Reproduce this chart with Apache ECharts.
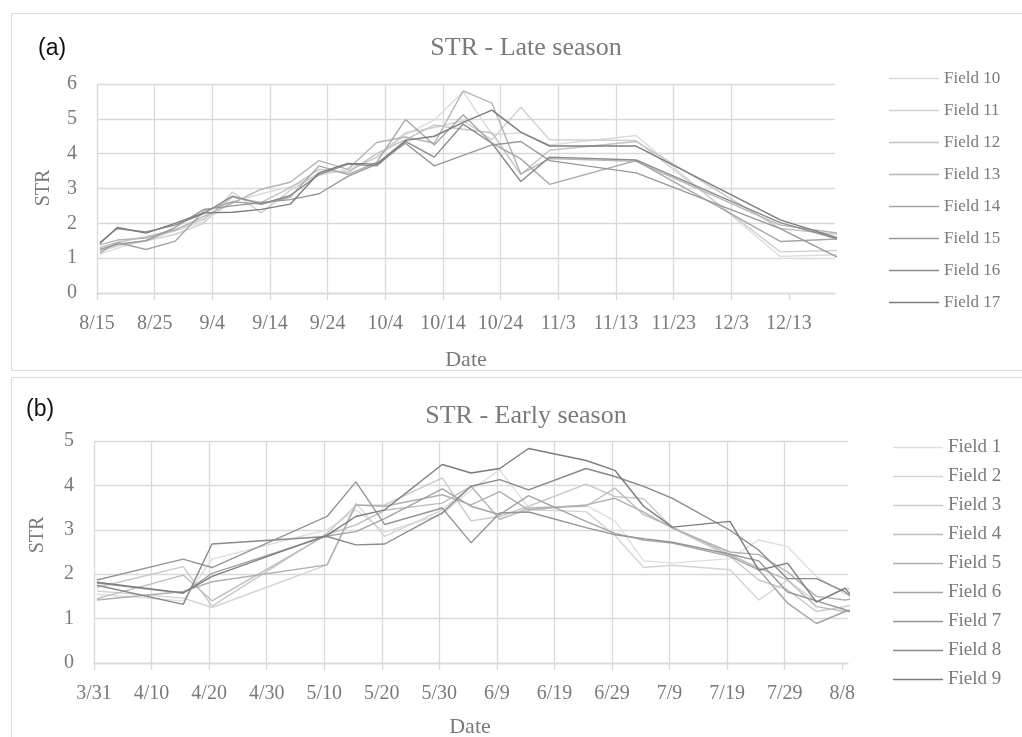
<!DOCTYPE html>
<html>
<head>
<meta charset="utf-8">
<title>STR</title>
<script src="https://cdn.jsdelivr.net/npm/echarts@6/dist/echarts.min.js"></script>
<style>
  html, body { margin: 0; padding: 0; background: #ffffff; }
  #chart { width: 1022px; height: 737px; }
</style>
</head>
<body>
<div id="chart"></div>
<script>
// ---------- (a) Late season ----------
const lateDates = ['8/15', '8/18', '8/23', '8/28', '9/2', '9/7', '9/12', '9/17', '9/22', '9/27',
                   '10/2', '10/7', '10/12', '10/17', '10/22', '10/27', '11/1', '11/16', '12/11', '12/21'];
const lateTicks = ['8/15', '8/25', '9/4', '9/14', '9/24', '10/4', '10/14', '10/24', '11/3', '11/13', '11/23', '12/3', '12/13'];
const lateAxisEnd = '12/21';
const lateNames = ['Field 10', 'Field 11', 'Field 12', 'Field 13', 'Field 14', 'Field 15', 'Field 16', 'Field 17'];
const field10 = [1.12, 1.28, 1.52, 1.78, 2.05, 2.62, 2.85, 3.05, 3.38, 3.55, 3.88, 4.55, 4.97, 5.78, 4.55, 4.60, 4.25, 4.52, 1.05, 1.10];
const field11 = [1.20, 1.35, 1.50, 1.68, 2.00, 2.90, 2.30, 2.95, 3.45, 3.50, 3.90, 4.60, 4.75, 4.95, 4.40, 5.33, 4.40, 4.38, 1.18, 1.22];
const field12 = [1.30, 1.45, 1.62, 1.82, 2.12, 2.75, 2.60, 3.02, 3.55, 3.45, 4.00, 4.40, 4.82, 4.70, 4.60, 3.40, 4.10, 4.35, 1.85, 1.68];
const field13 = [1.38, 1.52, 1.58, 1.80, 2.20, 2.58, 2.98, 3.18, 3.80, 3.55, 4.32, 4.48, 4.30, 5.80, 5.45, 3.42, 3.86, 3.78, 1.95, 1.72];
const field14 = [1.15, 1.45, 1.25, 1.48, 2.35, 2.62, 2.55, 2.75, 3.65, 3.40, 3.75, 4.98, 4.25, 5.12, 4.30, 3.85, 3.12, 3.80, 1.48, 1.55];
const field15 = [1.25, 1.40, 1.50, 1.88, 2.40, 2.50, 2.60, 2.68, 2.85, 3.35, 3.70, 4.30, 3.65, 3.95, 4.25, 4.35, 3.80, 3.45, 1.85, 1.02];
const field16 = [1.45, 1.85, 1.75, 1.95, 2.28, 2.78, 2.55, 2.80, 3.40, 3.70, 3.65, 4.35, 3.90, 4.85, 4.30, 3.20, 3.90, 3.82, 2.02, 1.55];
const field17 = [1.42, 1.88, 1.72, 2.00, 2.30, 2.32, 2.40, 2.55, 3.45, 3.72, 3.70, 4.38, 4.50, 4.90, 5.25, 4.62, 4.22, 4.22, 2.10, 1.58];
const lateValues = [field10, field11, field12, field13, field14, field15, field16, field17];
const lateColors = ['#dcdcdc', '#d0d0d0', '#c3c3c3', '#b5b5b5', '#a7a7a7', '#999999', '#8b8b8b', '#7d7d7d'];

// ---------- (b) Early season ----------
const earlyDates = ['3/31', '4/15', '4/20', '5/10', '5/15', '5/20', '5/30', '6/4', '6/9', '6/14',
                    '6/24', '6/29', '7/4', '7/9', '7/19', '7/24', '7/29', '8/3', '8/8', '8/9'];
const earlyTicks = ['3/31', '4/10', '4/20', '4/30', '5/10', '5/20', '5/30', '6/9', '6/19', '6/29', '7/9', '7/19', '7/29', '8/8'];
const earlyAxisEnd = '8/9';
const earlyNames = ['Field 1', 'Field 2', 'Field 3', 'Field 4', 'Field 5', 'Field 6', 'Field 7', 'Field 8', 'Field 9'];
const field1 = [1.55, 1.40, 2.34, 3.00, 3.45, 2.95, 3.35, 3.90, 4.35, 3.50, 3.55, 3.20, 2.30, 2.25, 2.35, 2.77, 2.62, 1.95, 1.55, 1.52];
const field2 = [1.62, 1.46, 1.25, 2.21, 3.60, 2.85, 3.45, 3.98, 3.25, 3.45, 3.41, 2.87, 2.15, 2.20, 2.10, 1.42, 1.87, 1.38, 1.70, 1.65];
const field3 = [1.70, 2.17, 1.28, 2.92, 3.55, 3.56, 4.17, 3.20, 3.30, 3.53, 4.03, 3.75, 3.70, 3.04, 2.40, 1.87, 1.65, 1.16, 1.27, 1.30];
const field4 = [1.45, 1.98, 1.40, 2.89, 3.11, 3.44, 3.60, 3.98, 3.23, 3.49, 3.53, 3.94, 3.34, 3.06, 2.44, 2.14, 1.87, 1.27, 1.16, 1.20];
const field5 = [1.42, 1.61, 1.83, 2.21, 3.56, 3.53, 3.79, 3.56, 3.86, 3.45, 3.56, 3.71, 3.40, 3.04, 2.50, 2.44, 2.05, 1.50, 1.42, 1.44];
const field6 = [1.80, 1.57, 2.02, 2.86, 2.96, 3.25, 3.92, 3.53, 3.34, 3.77, 3.19, 2.92, 2.77, 2.70, 2.40, 2.10, 1.35, 0.89, 1.16, 1.18];
const field7 = [1.87, 2.34, 2.15, 3.30, 4.08, 3.12, 3.49, 2.71, 3.38, 3.40, 3.05, 2.89, 2.80, 2.72, 2.45, 2.30, 1.60, 1.40, 1.20, 1.15];
const field8 = [1.75, 1.32, 2.68, 2.85, 2.66, 2.68, 3.38, 3.98, 4.13, 3.90, 4.38, 4.20, 3.98, 3.71, 2.99, 2.54, 1.90, 1.90, 1.60, 1.50];
const field9 = [1.82, 1.58, 1.95, 2.88, 3.30, 3.45, 4.47, 4.28, 4.38, 4.83, 4.56, 4.34, 3.53, 3.06, 3.19, 2.09, 2.25, 1.37, 1.68, 1.53];
const earlyValues = [field1, field2, field3, field4, field5, field6, field7, field8, field9];
const earlyColors = ['#dedede', '#d4d4d4', '#c9c9c9', '#bdbdbd', '#b0b0b0', '#a3a3a3', '#969696', '#898989', '#7c7c7c'];

// ---------- helpers ----------
const YEAR = 2019;
function toDay(md, startMd) {
  const [m, d] = md.split('/').map(Number);
  const [sm, sd] = startMd.split('/').map(Number);
  return Math.round((Date.UTC(YEAR, m - 1, d) - Date.UTC(YEAR, sm - 1, sd)) / 86400000);
}
function dayLabel(day, startMd) {
  const [sm, sd] = startMd.split('/').map(Number);
  const t = new Date(Date.UTC(YEAR, sm - 1, sd) + Math.round(day) * 86400000);
  return (t.getUTCMonth() + 1) + '/' + t.getUTCDate();
}

const FONT = '"Liberation Serif", "DejaVu Serif", serif';
const GRID_COLOR = '#d9d9d9';
const TEXT_COLOR = '#7a7a7a';

function xAxisFor(gridIndex, ticks, endMd) {
  const start = ticks[0];
  const tickDays = ticks.map(t => toDay(t, start));
  return {
    type: 'value', gridIndex: gridIndex,
    min: 0, max: toDay(endMd, start), interval: 10,
    axisLine: { show: true, lineStyle: { color: GRID_COLOR, width: 1.3 } },
    axisTick: { show: true, length: 7, customValues: tickDays, lineStyle: { color: GRID_COLOR, width: 1.3 } },
    axisLabel: {
      customValues: tickDays, margin: 21,
      color: TEXT_COLOR, fontFamily: FONT, fontSize: 20,
      formatter: v => dayLabel(v, start)
    },
    splitLine: { show: true, showMaxLine: false, lineStyle: { color: GRID_COLOR, width: 1.3 } }
  };
}
function yAxisFor(gridIndex, max) {
  return {
    type: 'value', gridIndex: gridIndex, min: 0, max: max, interval: 1,
    axisLine: { show: false }, axisTick: { show: false },
    axisLabel: { color: TEXT_COLOR, fontFamily: FONT, fontSize: 20, margin: 20 },
    splitLine: { show: true, lineStyle: { color: GRID_COLOR, width: 1.3 } }
  };
}
// each acquisition date sits in the middle of its day
function seriesFor(names, values, colors, dates, gridIndex) {
  const start = dates[0];
  return names.map((name, i) => ({
    name: name, type: 'line',
    xAxisIndex: gridIndex, yAxisIndex: gridIndex,
    symbol: 'none', clip: false, connectNulls: true,
    lineStyle: { color: colors[i], width: 1.4 },
    itemStyle: { color: colors[i] },
    data: dates.map((d, k) => [toDay(d, start) + 0.5, values[i][k]])
  }));
}
// legend keys are plain strokes, drawn as thin bars in each series colour
function legendFor(names, left, top, gap, fontSize) {
  return {
    data: names, orient: 'vertical', left: left, top: top, padding: 0,
    icon: 'rect', itemWidth: 50, itemHeight: 1.6, itemGap: gap,
    textStyle: { fontFamily: FONT, fontSize: fontSize, color: TEXT_COLOR }
  };
}

const chart = echarts.init(document.getElementById('chart'), null, { renderer: 'canvas' });
chart.setOption({
  animation: false,
  backgroundColor: '#ffffff',
  title: [
    { text: 'STR - Late season', left: 521, top: 30, textAlign: 'center',
      textStyle: { fontFamily: FONT, fontSize: 26, fontWeight: 'normal', color: '#7a7a7a' } },
    { text: 'STR - Early season', left: 521, top: 398, textAlign: 'center',
      textStyle: { fontFamily: FONT, fontSize: 26, fontWeight: 'normal', color: '#7a7a7a' } }
  ],
  grid: [
    { left: 97, top: 84, width: 738, height: 209 },
    { left: 94, top: 441, width: 754, height: 222 }
  ],
  xAxis: [xAxisFor(0, lateTicks, lateAxisEnd), xAxisFor(1, earlyTicks, earlyAxisEnd)],
  yAxis: [yAxisFor(0, 6), yAxisFor(1, 5)],
  legend: [
    legendFor(lateNames, 889, 70, 15, 17),
    legendFor(earlyNames, 893, 438, 10, 19)
  ],
  graphic: [
    { type: 'rect', shape: { x: 11.5, y: 13.5, width: 1020, height: 357 }, style: { fill: 'none', stroke: '#dadada', lineWidth: 1 }, silent: true },
    { type: 'rect', shape: { x: 11.5, y: 377.5, width: 1020, height: 370 }, style: { fill: 'none', stroke: '#dadada', lineWidth: 1 }, silent: true },
    { type: 'text', left: 38, top: 37, style: { text: '(a)', font: '23px "Liberation Sans", sans-serif', fill: '#111111' } },
    { type: 'text', left: 26, top: 398, style: { text: '(b)', font: '23px "Liberation Sans", sans-serif', fill: '#111111' } },
    { type: 'text', x: 44, y: 188, rotation: Math.PI / 2,
      style: { text: 'STR', font: '20px ' + FONT, fill: TEXT_COLOR, align: 'center', verticalAlign: 'middle' } },
    { type: 'text', x: 38, y: 535, rotation: Math.PI / 2,
      style: { text: 'STR', font: '20px ' + FONT, fill: TEXT_COLOR, align: 'center', verticalAlign: 'middle' } },
    { type: 'text', x: 466, y: 360, style: { text: 'Date', font: '22px ' + FONT, fill: TEXT_COLOR, align: 'center', verticalAlign: 'middle' } },
    { type: 'text', x: 470, y: 727, style: { text: 'Date', font: '22px ' + FONT, fill: TEXT_COLOR, align: 'center', verticalAlign: 'middle' } }
  ],
  series: [
    ...seriesFor(lateNames, lateValues, lateColors, lateDates, 0),
    ...seriesFor(earlyNames, earlyValues, earlyColors, earlyDates, 1)
  ]
});
</script>
</body>
</html>
